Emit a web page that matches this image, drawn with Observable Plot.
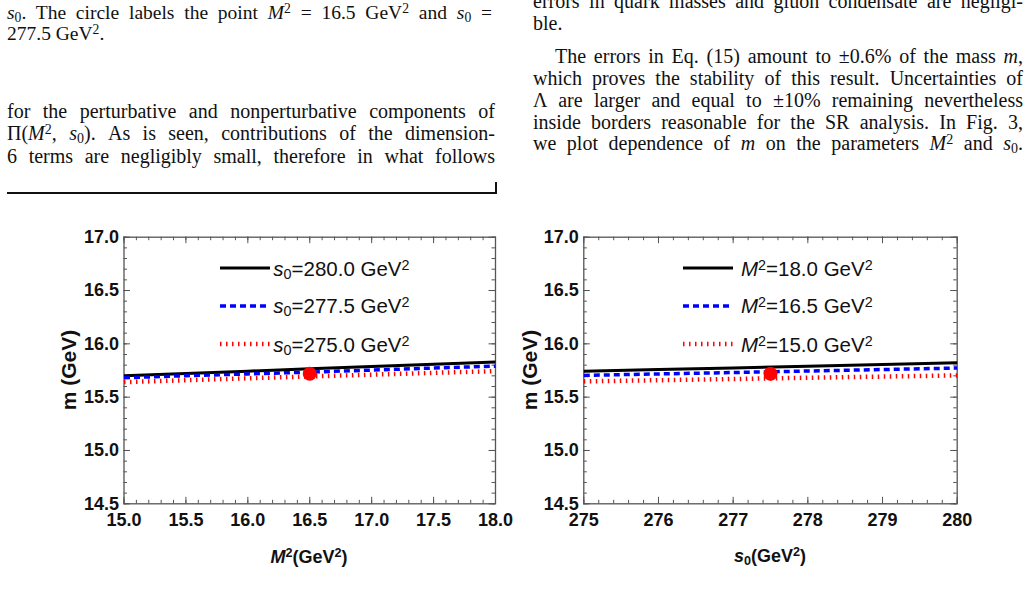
<!DOCTYPE html>
<html>
<head>
<meta charset="utf-8">
<script src="https://cdn.jsdelivr.net/npm/d3@7"></script>
<script src="https://cdn.jsdelivr.net/npm/@observablehq/plot@0.6"></script>
<style>
html,body{margin:0;padding:0;background:#fff;}
#page{position:relative;width:1031px;height:615px;overflow:hidden;background:#fff;}
.tl{position:absolute;white-space:nowrap;font-family:"Liberation Serif","Times New Roman",serif;font-size:20px;line-height:22px;color:#111;}
.cap{font-size:19.5px;line-height:19px;}
.tl sub,.sn sub{font-size:70%;line-height:0;vertical-align:-0.2em;}
.tl sup,.sn sup{font-size:70%;line-height:0;vertical-align:0.45em;}
.sn{position:absolute;white-space:nowrap;font-family:"Liberation Sans",Arial,sans-serif;font-size:20.5px;line-height:20px;color:#111;}
.b{font-weight:bold;}
.chart{position:absolute;top:220px;}
.rule{position:absolute;background:#111;}
</style>
</head>
<body>
<div id="page"></div>
<script>
// ---------- data ----------
const M2 = [15.0, 15.5, 16.0, 16.5, 17.0, 17.5, 18.0];           // GeV^2
const mS0_280  = [15.700, 15.722, 15.744, 15.766, 15.787, 15.808, 15.829];
const mS0_2775 = [15.682, 15.701, 15.718, 15.735, 15.754, 15.773, 15.791];
const mS0_275  = [15.641, 15.659, 15.677, 15.694, 15.711, 15.728, 15.744];

const S0 = [275, 276, 277, 278, 279, 280];                         // GeV^2
const mM2_18  = [15.744, 15.759, 15.774, 15.790, 15.806, 15.822];
const mM2_165 = [15.704, 15.718, 15.731, 15.745, 15.759, 15.773];
const mM2_15  = [15.648, 15.659, 15.670, 15.682, 15.693, 15.704];

const pointM2 = 16.5, pointS0 = 277.5, pointM = 15.72;

const yTicks = [14.5, 15.0, 15.5, 16.0, 16.5, 17.0];
const xTicksLeft = [15.0, 15.5, 16.0, 16.5, 17.0, 17.5, 18.0];
const xTicksRight = [275, 276, 277, 278, 279, 280];
const leftLegend = ["280.0", "277.5", "275.0"];
const rightLegend = ["18.0", "16.5", "15.0"];

// ---------- styles ----------
const seriesStyle = [
  {stroke: "#000000", strokeWidth: 3, strokeDasharray: null},
  {stroke: "#0000ff", strokeWidth: 3.5, strokeDasharray: "6,4"},
  {stroke: "#ff0000", strokeWidth: 4.5, strokeDasharray: "1.5,4.5"}
];
const page = document.getElementById("page");

function chart({xs, series, xTicks, xMinor, yMinor, fmtX, dotX, W, mL, mR}) {
  const H = 360, mT = 16.7, mB = 76.7;
  const ph = H - mT - mB, pw = W - mL - mR;
  const tk = {stroke: "#555", strokeWidth: 1};
  const lines = series.map((vals, i) =>
    Plot.line(xs.map((x, j) => ({x, y: vals[j]})), {x: "x", y: "y", ...seriesStyle[i], strokeLinecap: "butt"}));
  return Plot.plot({
    width: W, height: H, marginLeft: mL, marginRight: mR, marginTop: mT, marginBottom: mB,
    x: {domain: [xTicks[0], xTicks[xTicks.length - 1]]},
    y: {domain: [14.5, 17.0]},
    style: {fontFamily: "Liberation Sans, Arial, sans-serif", fontSize: "18px", fontWeight: "bold", color: "#111", background: "transparent", overflow: "visible"},
    marks: [
      Plot.tickX(xMinor, {x: d => d, insetTop: ph - 3.5, ...tk}),
      Plot.tickX(xMinor, {x: d => d, insetBottom: ph - 3.5, ...tk}),
      Plot.tickX(xTicks, {x: d => d, insetTop: ph - 6.5, ...tk}),
      Plot.tickX(xTicks, {x: d => d, insetBottom: ph - 6.5, ...tk}),
      Plot.tickY(yMinor, {y: d => d, insetRight: pw - 3.5, ...tk}),
      Plot.tickY(yMinor, {y: d => d, insetLeft: pw - 3.5, ...tk}),
      Plot.tickY(yTicks, {y: d => d, insetRight: pw - 6.5, ...tk}),
      Plot.tickY(yTicks, {y: d => d, insetLeft: pw - 6.5, ...tk}),
      Plot.frame({stroke: "#555", strokeWidth: 1.3}),
      Plot.axisX({ticks: xTicks, tickSize: 0, tickPadding: 9, tickFormat: fmtX, label: null, fontSize: 18, fontWeight: "bold"}),
      Plot.axisY({ticks: yTicks, tickSize: 0, tickPadding: 5, tickFormat: d => d.toFixed(1), label: null, fontSize: 18, fontWeight: "bold"}),
      ...lines,
      Plot.dot([{x: dotX, y: pointM}], {x: "x", y: "y", r: 7, fill: "#ff0000", stroke: null})
    ]
  });
}

const range = (a, b, s) => d3.range(Math.round((b - a) / s) + 1).map(i => +(a + i * s).toFixed(4));

const left = chart({xs: M2, series: [mS0_280, mS0_2775, mS0_275], xTicks: xTicksLeft,
  xMinor: range(15, 18, 0.1), yMinor: range(14.5, 17, 0.1), fmtX: d => d.toFixed(1),
  dotX: pointM2, W: 515, mL: 123.5, mR: 20});
const right = chart({xs: S0, series: [mM2_18, mM2_165, mM2_15], xTicks: xTicksRight,
  xMinor: range(275, 280, 0.2), yMinor: range(14.5, 17, 0.1), fmtX: d => String(d),
  dotX: pointS0, W: 521, mL: 73.3, mR: 74.3});

const lw = document.createElement("div"); lw.className = "chart"; lw.style.left = "0px"; lw.appendChild(left); page.appendChild(lw);
const rw = document.createElement("div"); rw.className = "chart"; rw.style.left = "510px"; rw.appendChild(right); page.appendChild(rw);

// ---------- text helpers ----------
function textLine(html, x, baseline, width, justify, cls = "tl", off = 17.9) {
  const d = document.createElement("div");
  d.className = cls;
  d.innerHTML = html;
  d.style.left = x + "px";
  d.style.top = (baseline - off) + "px";
  page.appendChild(d);
  if (justify) {
    const w = d.getBoundingClientRect().width;
    const n = (d.textContent.match(/ /g) || []).length;
    if (n) d.style.wordSpacing = ((width - w) / n) + "px";
  }
  return d;
}

// left column
textLine('<i>s</i><sub>0</sub>. The circle labels the point <i>M</i><sup>2</sup> = 16.5 GeV<sup>2</sup> and <i>s</i><sub>0</sub> =', 7, 19.3, 485, true, "tl cap", 16.1);
textLine('277.5 GeV<sup>2</sup>.', 7, 39.8, 0, false, "tl cap", 16.1);
textLine('for the perturbative and nonperturbative components of', 7, 118.3, 488, true);
textLine('Π(<i>M</i><sup>2</sup>, <i>s</i><sub>0</sub>). As is seen, contributions of the dimension-', 7, 140.3, 488, true);
textLine('6 terms are negligibly small, therefore in what follows', 7, 162.6, 488, true);

// right column
textLine('errors in quark masses and gluon condensate are negligi-', 533, 7.5, 490, true);
textLine('ble.', 533, 30, 0, false);
textLine('The errors in Eq. (15) amount to ±0.6% of the mass <i>m</i>,', 555, 63.3, 468, true);
textLine('which proves the stability of this result. Uncertainties of', 533, 85, 490, true);
textLine('Λ are larger and equal to ±10% remaining nevertheless', 533, 106.7, 490, true);
textLine('inside borders reasonable for the SR analysis. In Fig. 3,', 533, 128.4, 490, true);
textLine('we plot dependence of <i>m</i> on the parameters <i>M</i><sup>2</sup> and <i>s</i><sub>0</sub>.', 533, 150.1, 490, true);

// page-split rule
const r1 = document.createElement("div"); r1.className = "rule";
Object.assign(r1.style, {left: "7px", top: "191.5px", width: "490px", height: "2.3px"}); page.appendChild(r1);
const r2 = document.createElement("div"); r2.className = "rule";
Object.assign(r2.style, {left: "495px", top: "181.7px", width: "2.3px", height: "12px"}); page.appendChild(r2);

// ---------- legends ----------
function legend(labels, prefixHtml, lineX, textX) {
  const ys = [267.7, 305.5, 344];
  labels.forEach((lab, i) => {
    const s = seriesStyle[i];
    const svg = document.createElementNS("http://www.w3.org/2000/svg", "svg");
    svg.setAttribute("width", 50); svg.setAttribute("height", 10);
    svg.style.position = "absolute"; svg.style.left = lineX + "px"; svg.style.top = (ys[i] - 5) + "px";
    const ln = document.createElementNS("http://www.w3.org/2000/svg", "line");
    ln.setAttribute("x1", 0); ln.setAttribute("x2", 50); ln.setAttribute("y1", 5); ln.setAttribute("y2", 5);
    ln.setAttribute("stroke", s.stroke); ln.setAttribute("stroke-width", s.strokeWidth);
    if (s.strokeDasharray) ln.setAttribute("stroke-dasharray", s.strokeDasharray);
    svg.appendChild(ln); page.appendChild(svg);
    textLine(prefixHtml + '=' + lab + ' GeV<sup>2</sup>', textX, ys[i] + 8, 0, false, "sn", 17.1);
  });
}
legend(leftLegend, '<i>s</i><sub>0</sub>', 220, 273.3);
legend(rightLegend, '<i>M</i><sup>2</sup>', 683, 741);

// ---------- axis titles ----------
function centered(html, cx, baseline, size, rotate) {
  const d = document.createElement("div");
  d.className = "sn b";
  d.innerHTML = html;
  d.style.fontSize = size + "px";
  d.style.lineHeight = "24px";
  d.style.width = "200px";
  d.style.textAlign = "center";
  d.style.left = (cx - 100) + "px";
  const off = (24 - 1.117 * size) / 2 + 0.905 * size;
  if (rotate) {
    d.style.top = (baseline - 12) + "px";
    d.style.transform = "rotate(-90deg)";
  } else {
    d.style.top = (baseline - off) + "px";
  }
  page.appendChild(d);
}
centered('<i>M</i><sup>2</sup>(GeV<sup>2</sup>)', 309, 563, 18, false);
centered('<i>s</i><sub>0</sub>(GeV<sup>2</sup>)', 770, 562.5, 18, false);
centered('m (GeV)', 69.4, 370, 21, true);
centered('m (GeV)', 530, 370, 21, true);
</script>
</body>
</html>
